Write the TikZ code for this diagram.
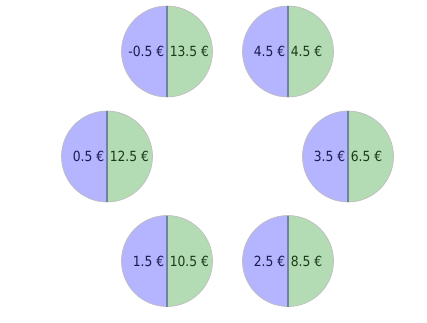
\documentclass[tikz,border=0pt]{standalone}
\usepackage{fontspec}
\setmainfont{DejaVu Sans}[FakeStretch=0.88]
\definecolor{lblue}{HTML}{B4B4FF}
\definecolor{lgreen}{HTML}{B4DCB4}
\definecolor{rimc}{HTML}{BEBEBE}
\definecolor{divc}{HTML}{7282A2}
\definecolor{ltxt}{HTML}{1A1A50}
\definecolor{rtxt}{HTML}{1A3A1A}
\tikzset{
  rim/.style={draw=rimc, line width=0.7pt},
  divider/.style={draw=divc, line width=1.1pt},
  lval/.style={anchor=east, inner sep=2.6pt, font=\fontsize{14}{16}\selectfont, text=ltxt},
  rval/.style={anchor=west, inner sep=2.6pt, font=\fontsize{14}{16}\selectfont, text=rtxt}
}
\newcommand{\coin}[4]{%
  \fill[lblue] (#1) ++(0,45.5) arc[start angle=90, end angle=270, radius=45.5] -- cycle;
  \fill[lgreen] (#1) ++(0,45.5) arc[start angle=90, end angle=-90, radius=45.5] -- cycle;
  \draw[rim] (#1) circle[radius=45.5];
  \draw[divider] (#1) ++(0,45.5) -- ++(0,-91);
  \node[lval] (#2l) at (#1) {#3};
  \node[rval] (#2r) at (#1) {#4};
}
\begin{document}
\begin{tikzpicture}[x=1pt,y=-1pt]
\useasboundingbox (0,0) rectangle (427,322);
\coordinate (c1) at (167,51.5);
\coordinate (c2) at (288,51.5);
\coordinate (c3) at (107,156.5);
\coordinate (c4) at (348,156.5);
\coordinate (c5) at (167,261);
\coordinate (c6) at (288,261);
\coin{c1}{a}{-0.5 €}{13.5 €}
\coin{c2}{b}{4.5 €}{4.5 €}
\coin{c3}{c}{0.5 €}{12.5 €}
\coin{c4}{d}{3.5 €}{6.5 €}
\coin{c5}{e}{1.5 €}{10.5 €}
\coin{c6}{f}{2.5 €}{8.5 €}
\end{tikzpicture}
\end{document}
